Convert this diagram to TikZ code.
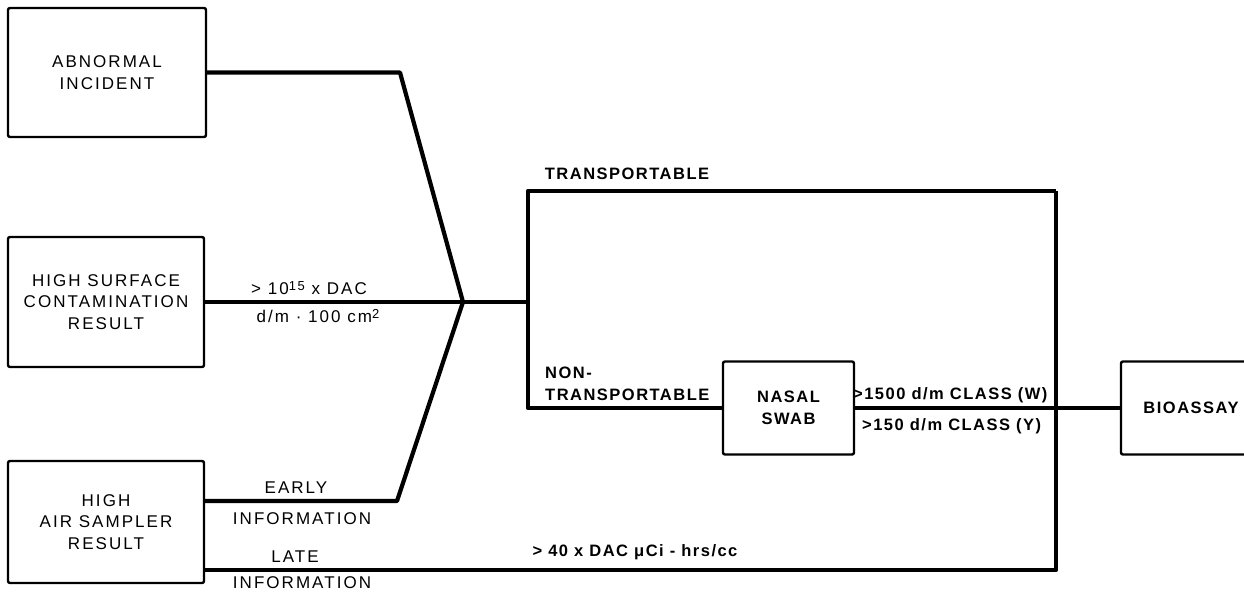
\documentclass[tikz,border=0pt]{standalone}
\usepackage{fontspec}
\setmainfont{Liberation Sans}
\newfontfamily\regf{Liberation Sans}[LetterSpace=12]
\newfontfamily\boldf{Liberation Sans Bold}[LetterSpace=9]
\newcommand{\dfs}{\fontsize{17}{21.5}\selectfont\regf}
\newcommand{\bfs}{\fontsize{16.5}{21.5}\selectfont\boldf}
\begin{document}
\begin{tikzpicture}[x=1pt,y=-1pt,
  box/.style={draw,line width=2.4pt,rounded corners=2pt,inner sep=0pt,align=center,font=\dfs},
  wire/.style={line width=4.2pt,line join=round},
  lab/.style={inner sep=0pt,font=\dfs},
  blab/.style={inner sep=0pt,font=\bfs}]
\useasboundingbox (0,0) rectangle (1244,595);
\clip (0,0) rectangle (1244,595);
% boxes
\node[box,minimum width=198pt,minimum height=129pt] (A) at (107,72.5) {ABNORMAL\\INCIDENT};
\node[box,minimum width=196pt,minimum height=130pt] (B) at (106,302) {HIGH SURFACE\\CONTAMINATION\\RESULT};
\node[box,minimum width=196pt,minimum height=122pt] (C) at (106,522) {HIGH\\AIR SAMPLER\\RESULT};
\node[box,font=\bfs,minimum width=131pt,minimum height=93pt] (N) at (788.5,408) {NASAL\\SWAB};
\node[box,font=\bfs,minimum width=140pt,minimum height=93pt] (BIO) at (1191,408) {BIOASSAY};
% junction points
\coordinate (a1) at (400,72.5);
\coordinate (J) at (463,302);
\coordinate (e1) at (397,501);
\coordinate (tl) at (528,191);
\coordinate (tr) at (1056,191);
\coordinate (R) at (1056,408);
\coordinate (lr) at (1056,570);
% wires
\draw[wire] (A.east) -- (a1) -- (J);
\draw[wire] (B.east) -- (J) -- (tl |- J);
\draw[wire] (C.east |- e1) -- (e1) -- (J);
\draw[wire] (tr) -- (tl) -- (tl |- N.west) -- (N.west);
\draw[wire] (N.east) -- (R) -- (BIO.west);
\draw[wire] (tr) -- (lr) -- (C.east |- lr);
% labels
\node[lab] (l1) at (309,288) {> 10{\fontsize{13}{13}\selectfont\raisebox{0.5ex}{15}} x DAC};
\node[lab] (l2) at (318,316) {d/m · 100 cm{\fontsize{13}{13}\selectfont\raisebox{0.5ex}{2}}};
\node[blab] (l3) at (627,174) {TRANSPORTABLE};
\node[blab,anchor=west,align=left] (l4) at (545,384) {NON-\\TRANSPORTABLE};
\node[blab,anchor=west] (l5) at (853,395) {>1500 d/m CLASS (W)};
\node[blab,anchor=west] (l6) at (862,426) {>150 d/m CLASS (Y)};
\node[lab] (l7) at (296,488) {EARLY};
\node[lab] (l8) at (302,519) {INFORMATION};
\node[lab] (l9) at (295,557) {LATE};
\node[lab] (l10) at (302,583) {INFORMATION};
\node[blab] (l11) at (635,552) {> 40 x DAC μCi - hrs/cc};
\end{tikzpicture}
\end{document}
